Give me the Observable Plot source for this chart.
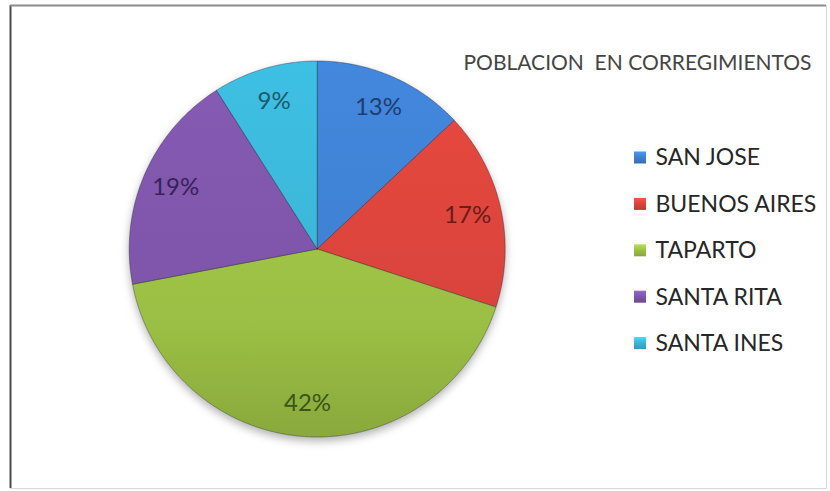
<!DOCTYPE html>
<html><head><meta charset="utf-8">
<script src="https://cdn.jsdelivr.net/npm/d3@7"></script>
<script src="https://cdn.jsdelivr.net/npm/@observablehq/plot@0.6"></script>
<style>body{margin:0;background:#fff;}</style>
</head><body><div id="chart"></div>
<script>
const categories = ["SAN JOSE", "BUENOS AIRES", "TAPARTO", "SANTA RITA", "SANTA INES"];
const values = [13, 17, 42, 19, 9];
const labels = ["13%", "17%", "42%", "19%", "9%"];
const colors = ["#3E7FCF", "#D8433B", "#9BBF44", "#7D55A8", "#3AB3D4"];
const labelColors = ["#1F3C70", "#6A1C18", "#3B5418", "#372257", "#1B5A6A"];
const title = "POBLACION\u00a0 EN CORREGIMIENTOS";

const W = 830, H = 491, cx = 316.7, cy = 248.5, R = 188;
const X = px => (px - cx) / R;
const Y = py => (cy - py) / R;
const rowY = i => 157.5 + i * 46.4;

const total = d3.sum(values);
let acc = 0;
const slices = values.map((v, i) => {
  const a0 = acc / total * 2 * Math.PI; acc += v;
  const a1 = acc / total * 2 * Math.PI;
  return {i, a0, a1, mid: (a0 + a1) / 2};
});
const pts = [];
slices.forEach(s => {
  pts.push({k: s.i, x: 0, y: 0});
  const n = Math.max(2, Math.ceil((s.a1 - s.a0) / (Math.PI / 360)));
  for (let j = 0; j <= n; j++) {
    const a = s.a0 + (s.a1 - s.a0) * j / n;
    pts.push({k: s.i, x: Math.sin(a), y: Math.cos(a)});
  }
  pts.push({k: s.i, x: 0, y: 0});
});

const svg = Plot.plot({
  width: W, height: H,
  marginTop: 5, marginLeft: 10, marginRight: 4, marginBottom: 3,
  x: {domain: [-1, 1], range: [cx - R, cx + R], axis: null},
  y: {domain: [-1, 1], range: [cy + R, cy - R], axis: null},
  color: {type: "identity"},
  style: {fontFamily: "Lato", background: "#fff"},
  marks: [
    Plot.frame({stroke: "#d8d8d8"}),
    Plot.ruleX([X(10)], {stroke: "#4a4a4a", strokeWidth: 2}),
    Plot.ruleY([Y(5)], {stroke: "#8a8a8a", strokeWidth: 2}),
    Plot.line(pts, {x: "x", y: "y", z: "k", fill: d => `url(#g${d.k})`, stroke: "rgba(20,20,40,0.35)", strokeWidth: 1, curve: "linear"}),
    Plot.text(slices, {x: s => 0.82 * Math.sin(s.mid), y: s => 0.82 * Math.cos(s.mid), text: s => labels[s.i], fill: s => labelColors[s.i], fontSize: 24, fontFamily: "Lato"}),
    Plot.rect(categories, {x1: X(634), x2: X(646), y1: (d, i) => Y(rowY(i) - 6), y2: (d, i) => Y(rowY(i) + 6), fill: (d, i) => `url(#lg${i})`}),
    Plot.text(categories, {x: X(655), y: (d, i) => Y(rowY(i)), text: d => d, textAnchor: "start", fontSize: 23, fill: "#262626", fontFamily: "Lato"}),
    Plot.text([title], {x: X(463), y: Y(62.5), text: d => d, textAnchor: "start", fontSize: 21, fill: "#444", fontFamily: "Lato"})
  ]
});

const s = d3.select(svg);
const defs = s.insert("defs", ":first-child");
colors.forEach((c, i) => {
  const g = defs.append("linearGradient").attr("id", "g" + i).attr("gradientUnits", "userSpaceOnUse")
    .attr("x1", 0).attr("x2", 0).attr("y1", cy - R).attr("y2", cy + R);
  g.append("stop").attr("offset", 0).attr("stop-color", d3.color(c).brighter(0.2));
  g.append("stop").attr("offset", 0.7).attr("stop-color", c);
  g.append("stop").attr("offset", 1).attr("stop-color", d3.color(c).darker(0.35));
  const lg = defs.append("linearGradient").attr("id", "lg" + i).attr("x1", 0).attr("x2", 0).attr("y1", 0).attr("y2", 1);
  lg.append("stop").attr("offset", 0).attr("stop-color", d3.color(c).brighter(0.5));
  lg.append("stop").attr("offset", 0.5).attr("stop-color", c);
  lg.append("stop").attr("offset", 1).attr("stop-color", d3.color(c).darker(0.4));
});
const f = defs.append("filter").attr("id", "shadow").attr("x", "-10%").attr("y", "-10%").attr("width", "120%").attr("height", "125%");
f.append("feDropShadow").attr("dx", 0).attr("dy", 4).attr("stdDeviation", 4).attr("flood-color", "#000").attr("flood-opacity", 0.3);
s.select('g[aria-label="line"]').attr("filter", "url(#shadow)");

document.getElementById("chart").appendChild(svg);
</script>
</body></html>
